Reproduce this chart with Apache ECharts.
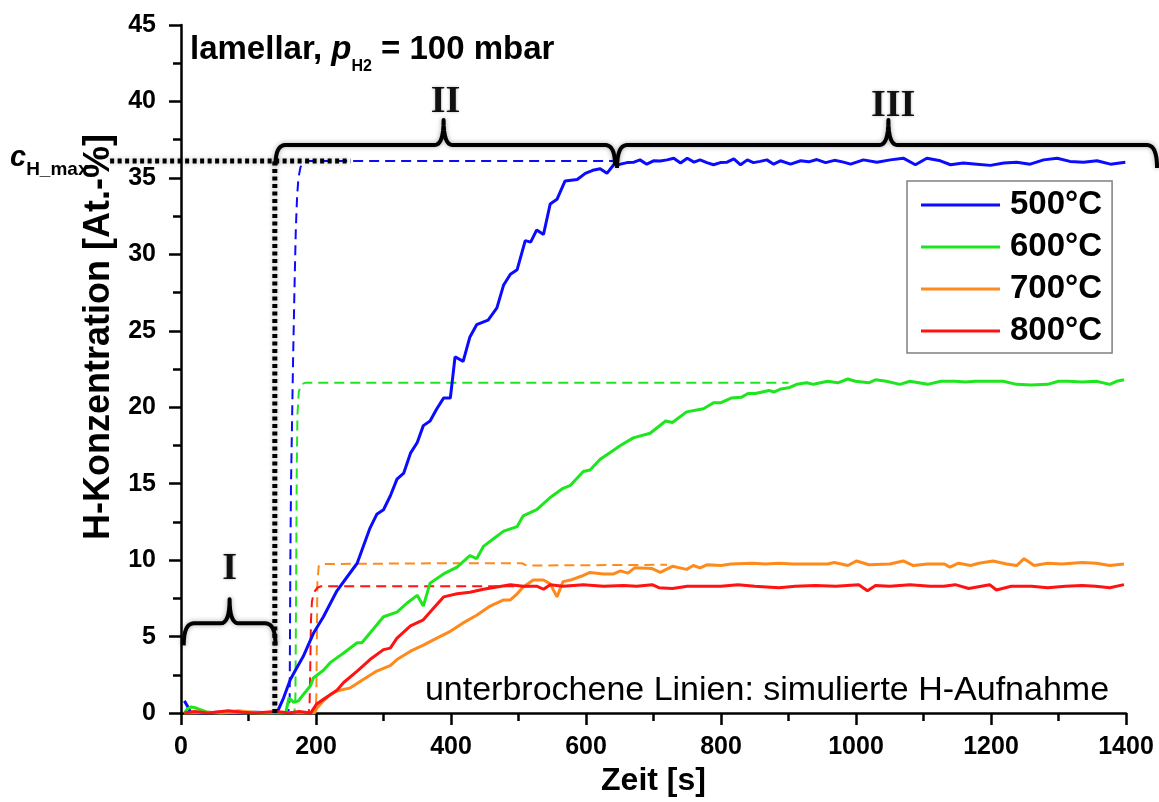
<!DOCTYPE html>
<html>
<head>
<meta charset="utf-8">
<script src="https://cdn.jsdelivr.net/npm/echarts@6/dist/echarts.min.js"></script>
<style>
  html, body { margin: 0; padding: 0; background: #fff; }
  #chart { width: 1159px; height: 802px; }
</style>
</head>
<body>
<div id="chart"></div>
<script>
// measured H uptake, [Zeit s, H at.-%]
const h500 = [[5,0.8],[9,0.5],[14,0.05],[30,0],[55,0.05],[80,0],[110,0.05],[142,0],
  [152,1.0],[162,2.2],[172,3.0],[181,3.7],[196,5.2],[211,6.3],[231,8.0],[246,8.9],[261,9.8],[270,10.9],
  [280,12.1],[290,13.0],[300,13.3],[310,14.2],[320,15.3],[330,15.7],[340,17.0],[350,17.7],[359,18.8],
  [369,19.1],[379,19.9],[389,20.6],[399,20.6],[406,23.3],[418,23.0],[428,24.6],[438,25.4],[455,25.7],
  [468,26.5],[478,28.0],[488,28.7],[498,29.0],[510,30.9],[518,30.8],[527,31.6],[537,31.3],[547,33.3],
  [557,33.6],[569,34.8],[587,34.9],[599,35.3],[610,35.5],[621,35.6],[631,35.3],[641,35.86],[651,35.9],
  [661,36.0],[671,36.03],[680,36.18],[690,35.9],[700,36.12],[710,36.1],[720,36.18],[730,36.29],
  [740,35.97],[750,36.29],[760,36.03],[769,36.18],[779,36.0],[789,35.86],[799,36.0],[809,36.03],
  [819,36.25],[829,35.86],[839,36.18],[848,36.0],[858,36.08],[868,36.18],[878,35.9],[888,36.12],
  [903,35.9],[918,36.12],[930,36.05],[942,36.2],[955,36.0],[968,36.15],[980,36.05],[992,35.9],
  [1011,36.18],[1031,36.03],[1051,36.18],[1070,36.29],[1088,35.86],[1105,36.29],[1125,36.12],
  [1140,35.86],[1159,35.97],[1179,35.9],[1199,35.82],[1219,35.97],[1238,36.03],[1258,35.9],
  [1278,36.18],[1298,36.29],[1317,36.08],[1337,36.03],[1357,36.12],[1377,35.9],[1399,36.03]];

const h600 = [[5,0],[10,0.3],[15,0.4],[21,0.35],[30,0.2],[40,0.05],[60,0],[80,0.05],[100,0],[130,0],
  [155,0],[160,1.0],[167,0.7],[174,0.8],[181,1.2],[192,1.8],[196,2.3],[211,2.8],[221,3.3],[240,3.9],
  [261,4.6],[268,4.6],[285,5.5],[300,6.3],[320,6.6],[335,7.2],[350,7.7],[359,7.0],[369,8.5],[389,9.1],
  [409,9.55],[428,10.3],[438,10.1],[448,10.9],[463,11.4],[478,11.9],[498,12.2],[507,12.9],[527,13.3],
  [547,14.1],[566,14.7],[577,14.9],[596,15.8],[606,15.9],[621,16.6],[631,16.9],[651,17.5],[670,18.0],
  [695,18.3],[718,19.1],[728,19.0],[749,19.7],[774,19.9],[789,20.3],[800,20.3],[815,20.6],[830,20.65],
  [840,20.9],[851,20.9],[871,21.1],[879,21.0],[889,21.2],[902,21.3],[912,21.5],[927,21.6],[937,21.5],
  [958,21.7],[973,21.6],[988,21.85],[999,21.7],[1019,21.6],[1029,21.8],[1045,21.7],[1065,21.5],
  [1080,21.7],[1106,21.5],[1126,21.7],[1147,21.7],[1162,21.65],[1177,21.7],[1198,21.7],[1218,21.7],
  [1238,21.5],[1259,21.45],[1284,21.5],[1300,21.7],[1315,21.7],[1335,21.65],[1356,21.7],[1376,21.5],
  [1386,21.7],[1397,21.8]];

const h700 = [[5,0],[40,0.05],[60,0],[85,0.15],[95,0.1],[120,0],[150,0.05],[170,0],[196,0],[201,0.3],
  [211,0.8],[221,1.2],[231,1.45],[251,1.65],[270,2.2],[290,2.75],[310,3.1],[320,3.5],[340,4.05],
  [359,4.45],[379,4.9],[399,5.35],[418,5.9],[438,6.4],[458,7.0],[478,7.4],[488,7.4],[498,7.8],
  [507,8.25],[522,8.7],[537,8.7],[547,8.45],[557,7.6],[566,8.6],[577,8.7],[596,9.0],[606,9.2],
  [626,9.1],[641,9.1],[651,9.3],[662,9.15],[672,9.5],[698,9.45],[710,9.2],[728,9.6],[749,9.4],
  [759,9.65],[769,9.5],[779,9.7],[800,9.65],[815,9.75],[846,9.8],[866,9.75],[886,9.8],[907,9.75],
  [927,9.75],[958,9.75],[968,9.85],[988,9.65],[1001,9.95],[1019,9.7],[1050,9.75],[1070,9.95],
  [1085,9.65],[1106,9.75],[1131,9.75],[1139,9.55],[1152,9.8],[1170,9.65],[1182,9.8],[1203,9.95],
  [1223,9.75],[1238,9.65],[1249,10.1],[1264,9.65],[1284,9.8],[1305,9.75],[1335,9.85],[1356,9.8],
  [1376,9.65],[1397,9.75]];

const h800 = [[5,0],[20,0.1],[40,0],[70,0.15],[90,0.05],[110,0],[140,0.1],[160,0],[175,0.1],[192,0],
  [201,0.6],[211,0.9],[221,1.2],[231,1.5],[241,2.0],[261,2.75],[280,3.5],[300,4.15],[310,4.25],
  [320,4.9],[340,5.7],[359,6.1],[374,6.85],[389,7.6],[409,7.8],[428,7.9],[448,8.1],[468,8.25],
  [488,8.4],[507,8.3],[527,8.3],[537,8.1],[547,8.4],[566,8.3],[596,8.4],[626,8.3],[656,8.35],
  [675,8.3],[698,8.4],[708,8.2],[728,8.15],[750,8.3],[774,8.3],[800,8.3],[825,8.4],[850,8.3],
  [886,8.2],[910,8.3],[940,8.35],[970,8.3],[1004,8.4],[1017,8.0],[1029,8.35],[1050,8.3],[1080,8.4],
  [1110,8.3],[1130,8.3],[1147,8.4],[1167,8.15],[1198,8.4],[1208,8.05],[1230,8.3],[1260,8.3],
  [1284,8.2],[1310,8.3],[1335,8.35],[1355,8.3],[1376,8.2],[1397,8.4]];

// simulated uptake (dashed)
const sim500 = [[150,0],[159,0],[161,1],[162,10],[163,15],[164.5,19],[166,23],[168,27.5],[170,31.5],
  [172,33.8],[174,35],[177,35.7],[182,36.05],[190,36.1],[650,36.1]];
const sim600 = [[160,0],[168,0],[169.5,1],[170.5,8],[171.5,16],[172.5,19.5],[174.5,21],[178,21.5],
  [184,21.6],[900,21.6]];
const sim700 = [[190,0],[199,0],[200.5,1],[201.3,5],[202,8.5],[204,9.6],[208,9.75],[400,9.8],
  [505,9.8],[512,9.65],[720,9.7]];
const sim800 = [[180,0],[189,0],[190.5,0.5],[191.5,3],[192.5,6],[194,7.3],[197,7.9],[202,8.2],
  [208,8.3],[520,8.3]];

const names = ['500°C', '600°C', '700°C', '800°C'];
const colors = ['#0b0bff', '#1ee61e', '#ff8a1c', '#ff1212'];
const measured = [h500, h600, h700, h800];
const simulated = [sim500, sim600, sim700, sim800];

const chart = echarts.init(document.getElementById('chart'));

const axisCommon = {
  axisLine: { onZero: false, lineStyle: { color: '#000', width: 2.5 } },
  axisTick: { show: true, length: 12, lineStyle: { color: '#000', width: 2.5 } },
  minorTick: { show: true, splitNumber: 2, length: 8, lineStyle: { color: '#000', width: 2.5 } },
  splitLine: { show: false },
  axisLabel: { color: '#000', fontSize: 25, fontWeight: 'bold', fontFamily: 'Liberation Sans',
    formatter: v => String(v) }
};

const series = [];
simulated.forEach((d, i) => {
  series.push({
    name: 'sim ' + names[i], type: 'line', data: d, symbol: 'none', z: 2,
    lineStyle: { color: colors[i], width: 2, type: [10, 6] }
  });
});
measured.forEach((d, i) => {
  series.push({
    name: names[i], type: 'line', data: d, symbol: 'none', z: 3,
    itemStyle: { color: colors[i] },
    lineStyle: { color: colors[i], width: 3 }
  });
});

const option = {
  animation: false,
  backgroundColor: '#fff',
  textStyle: { fontFamily: 'Liberation Sans' },
  grid: { left: 181, right: 33, top: 25, bottom: 81 },
  xAxis: Object.assign({}, axisCommon, {
    type: 'value', min: 0, max: 1400, interval: 200,
    name: 'Zeit [s]', nameLocation: 'middle', nameGap: 47,
    nameTextStyle: { color: '#000', fontSize: 32, fontWeight: 'bold' },
    axisLabel: Object.assign({}, axisCommon.axisLabel, { margin: 22 })
  }),
  yAxis: Object.assign({}, axisCommon, {
    type: 'value', min: 0, max: 45, interval: 5,
    name: 'H-Konzentration [At.-%]', nameLocation: 'middle', nameGap: 62, nameRotate: 90,
    nameTextStyle: { color: '#000', fontSize: 36, fontWeight: 'bold', padding: [0, 0, 0, 64] },
    axisLabel: Object.assign({}, axisCommon.axisLabel, { margin: 25 })
  }),
  legend: {
    data: names,
    orient: 'vertical',
    left: 907, top: 181,
    icon: 'rect',
    itemWidth: 79, itemHeight: 3, itemGap: 8,
    padding: [7, 10, 5, 14],
    borderColor: '#808080', borderWidth: 1.5,
    selectedMode: false,
    textStyle: { color: '#000', fontSize: 33, fontWeight: 'bold', lineHeight: 34, padding: [0, 0, 0, 5] }
  },
  series: series
};
chart.setOption(option);

// annotations: braces, dotted guide lines and labels
const px = (x, y) => chart.convertToPixel({ gridIndex: 0 }, [x, y]);
const ctx = document.createElement('canvas').getContext('2d');

// sample a quadratic curve into points
function quad(p0, c, p1, n) {
  const pts = [];
  for (let k = 1; k <= n; k++) {
    const t = k / n, u = 1 - t;
    pts.push([u * u * p0[0] + 2 * u * t * c[0] + t * t * p1[0], u * u * p0[1] + 2 * u * t * c[1] + t * t * p1[1]]);
  }
  return pts;
}

function brace(xa, xb, xt, y, down, up) {
  const a = px(xa, y), b = px(xb, y), t = px(xt, y);
  const yy = a[1], r = 10, rt = 9;
  let pts = [[a[0], yy + down]];
  pts = pts.concat(quad([a[0], yy + down], [a[0], yy], [a[0] + r, yy], 8));
  pts.push([t[0] - rt, yy]);
  pts = pts.concat(quad([t[0] - rt, yy], [t[0], yy], [t[0], yy - up], 8));
  pts = pts.concat(quad([t[0], yy - up], [t[0], yy], [t[0] + rt, yy], 8));
  pts.push([b[0] - r, yy]);
  pts = pts.concat(quad([b[0] - r, yy], [b[0], yy], [b[0], yy + down], 8));
  return {
    type: 'polyline', z: 10, shape: { points: pts },
    style: { fill: null, stroke: '#000', lineWidth: 4, lineJoin: 'round',
      shadowBlur: 5, shadowColor: 'rgba(0,0,0,0.35)' }
  };
}

function dotted(x1, y1, x2, y2) {
  const p1 = px(x1, y1), p2 = px(x2, y2);
  return {
    type: 'line', z: 10, shape: { x1: p1[0], y1: p1[1], x2: p2[0], y2: p2[1] },
    style: { stroke: '#000', lineWidth: 5, lineDash: [4, 3.5], shadowBlur: 4, shadowColor: 'rgba(0,0,0,0.3)' }
  };
}

function textRun(x, baseline, parts) {
  const els = [];
  let cx = x;
  parts.forEach(p => {
    const fam = p.family || 'Liberation Sans';
    const weight = p.bold ? 'bold' : 'normal';
    const style = p.italic ? 'italic' : 'normal';
    ctx.font = style + ' ' + weight + ' ' + p.size + 'px ' + fam;
    const w = ctx.measureText(p.t).width;
    els.push({
      type: 'text', z: 20, x: cx, y: baseline + (p.dy || 0) - 0.35 * p.size,
      style: { text: p.t, fontSize: p.size, fontWeight: weight, fontStyle: style, fontFamily: fam,
        fill: '#000', align: 'left', verticalAlign: 'middle' }
    });
    cx += w;
  });
  return els;
}

function roman(t, x, y) {
  return {
    type: 'text', z: 20, x: x, y: y,
    style: { text: t, fontSize: 38, fontWeight: 'bold', fontFamily: 'Liberation Serif',
      fill: '#111', align: 'center', verticalAlign: 'middle', textShadowBlur: 3, textShadowColor: 'rgba(0,0,0,0.3)' }
  };
}

const cMax = 36.1;
const tStart = 139;
const graphics = [
  dotted(tStart, 0, tStart, cMax),
  dotted(-105, cMax, 251, cMax),
  brace(4, 140, 72, 5.87, 22, 24),
  brace(140, 643, 389, 37.15, 20, 25),
  brace(646, 1446, 1048, 37.15, 23, 25),
  roman('I', px(72, 0)[0], 569),
  roman('II', px(392, 0)[0], 102),
  roman('III', px(1055, 0)[0], 106)
].concat(
  textRun(190, 61, [
    { t: 'lamellar, ', size: 33, bold: true },
    { t: 'p', size: 33, bold: true, italic: true },
    { t: 'H2', size: 16, bold: true, dy: 11 },
    { t: ' = 100 mbar', size: 33, bold: true }
  ]),
  textRun(10, 168, [
    { t: 'c', size: 29, bold: true, italic: true },
    { t: 'H_max', size: 19, bold: true, dy: 8 }
  ]),
  [{
    type: 'text', z: 20, x: 767, y: 703 - 0.35 * 34,
    style: { text: 'unterbrochene Linien: simulierte H-Aufnahme', fontSize: 34, fontFamily: 'Liberation Sans',
      fill: '#000', align: 'center', verticalAlign: 'middle' }
  }]
);
chart.setOption({ graphic: graphics });
</script>
</body>
</html>
